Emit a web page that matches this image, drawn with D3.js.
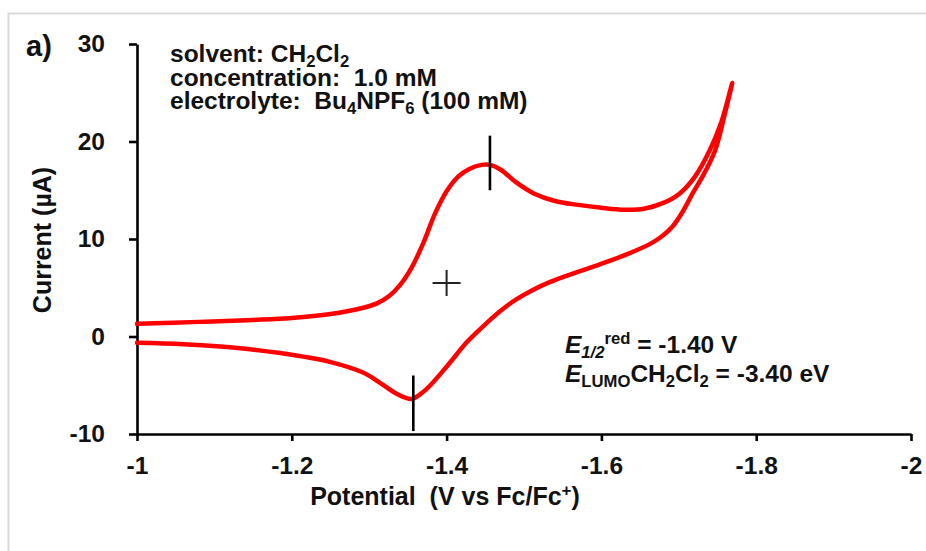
<!DOCTYPE html>
<html>
<head>
<meta charset="utf-8">
<script src="https://cdn.jsdelivr.net/npm/d3@7"></script>
<style>
  body { margin: 0; background: #fff; }
  svg { display: block; font-family: "Liberation Sans", Arial, sans-serif; font-weight: bold; }
</style>
</head>
<body>
<svg width="926" height="551"></svg>
<script>

// forward scan (-1 V -> -1.77 V)
var fwdPotential = [-1.000, -1.080, -1.150, -1.200, -1.250, -1.290, -1.310, -1.325, -1.340, -1.355,
                    -1.370, -1.385, -1.400, -1.415, -1.430, -1.445, -1.456, -1.470, -1.490, -1.512,
                    -1.540, -1.570, -1.600, -1.630, -1.655, -1.680, -1.700, -1.720, -1.740, -1.755, -1.769];
var fwdCurrent   = [1.3, 1.5, 1.7, 1.9, 2.3, 2.9, 3.4, 4.1, 5.3, 7.1,
                    9.6, 12.6, 14.9, 16.4, 17.2, 17.6, 17.6, 17.1, 15.8, 14.7,
                    13.9, 13.5, 13.2, 13.0, 13.1, 13.7, 14.6, 16.3, 19.1, 22.0, 26.0];

// return scan (-1.77 V -> -1 V)
var revPotential = [-1.769, -1.760, -1.747, -1.732, -1.718, -1.705, -1.691, -1.677, -1.663, -1.635,
                    -1.598, -1.565, -1.534, -1.512, -1.490, -1.469, -1.452, -1.440, -1.426, -1.401,
                    -1.379, -1.368, -1.355, -1.336, -1.315, -1.292, -1.249, -1.185, -1.120, -1.060, -1.000];
var revCurrent   = [26.0, 23.0, 19.1, 16.6, 14.7, 12.8, 11.2, 10.2, 9.5, 8.5,
                    7.4, 6.5, 5.6, 4.8, 3.8, 2.6, 1.4, 0.5, -0.6, -3.0,
                    -5.0, -5.8, -6.4, -5.9, -4.8, -3.7, -2.6, -1.7, -1.1, -0.8, -0.65];

// peak markers: [potential, current from, current to]
var peakMarks = [[-1.456, 15.0, 20.6], [-1.357, -4.0, -9.7]];
var halfWave = [-1.40, 5.5];

var xTicks = [-1, -1.2, -1.4, -1.6, -1.8, -2];
var yTicks = [-10, 0, 10, 20, 30];

var svg = d3.select("svg");

// frame remnant of the source figure
svg.append("path")
    .attr("d", "M8.5,551V13.5H926")
    .attr("fill", "none")
    .attr("stroke", "#d9d9d9")
    .attr("stroke-width", 2);

var x = d3.scaleLinear().domain([-1, -2]).range([137, 911]);
var y = d3.scaleLinear().domain([-10, 30]).range([434, 44]);

var xAxis = svg.append("g")
    .attr("transform", "translate(0,434)")
    .call(d3.axisBottom(x).tickValues(xTicks).tickSize(7).tickSizeOuter(0).tickPadding(16)
      .tickFormat(function(d) { return String(+d.toFixed(1)).replace("\u2212", "-"); }));

var yAxis = svg.append("g")
    .attr("transform", "translate(137,0)")
    .call(d3.axisLeft(y).tickValues(yTicks).tickSize(8).tickSizeOuter(0).tickPadding(24)
      .tickFormat(function(d) { return String(d); }));

[xAxis, yAxis].forEach(function(g) {
  g.selectAll("path, line").attr("stroke", "#000").attr("stroke-width", 2.6);
  g.selectAll("text").attr("fill", "#111").attr("font-size", 24.5)
    .attr("font-family", null).attr("font-weight", "bold");
});

// CV curve
var pts = fwdPotential.map(function(p, i) { return [p, fwdCurrent[i]]; })
  .concat(revPotential.slice(1).map(function(p, i) { return [p, revCurrent[i + 1]]; }));

var line = d3.line()
    .x(function(d) { return x(d[0]); })
    .y(function(d) { return y(d[1]); })
    .curve(d3.curveCatmullRom.alpha(0.5));

svg.append("path")
    .datum(pts)
    .attr("d", line)
    .attr("fill", "none")
    .attr("stroke", "#ff0000")
    .attr("stroke-width", 4.5)
    .attr("stroke-linejoin", "round")
    .attr("stroke-linecap", "round");

// peak markers
svg.selectAll(".mark")
  .data(peakMarks)
  .enter().append("line")
    .attr("x1", function(d) { return x(d[0]); })
    .attr("x2", function(d) { return x(d[0]); })
    .attr("y1", function(d) { return y(d[1]); })
    .attr("y2", function(d) { return y(d[2]); })
    .attr("stroke", "#000")
    .attr("stroke-width", 2.6);

// E1/2 cross
var cx = x(halfWave[0]), cy = y(halfWave[1]);
svg.append("path")
    .attr("d", "M" + (cx - 14) + "," + cy + "H" + (cx + 14) + "M" + cx + "," + (cy - 13) + "V" + (cy + 13))
    .attr("stroke", "#222")
    .attr("stroke-width", 2);

// rich text helper: parts = [text, kind, italic]
function richText(g, xPos, yPos, size, parts) {
  var t = g.append("text").attr("x", xPos).attr("y", yPos)
      .attr("font-size", size).attr("fill", "#111");
  var shift = 0;
  parts.forEach(function(p) {
    var target = p[1] === "sub" ? 5 : p[1] === "sup" ? -9 : 0;
    var s = t.append("tspan")
        .attr("dy", target - shift)
        .attr("font-size", p[1] ? size * 0.68 : size)
        .text(p[0]);
    if (p[2]) s.attr("font-style", "italic");
    shift = target;
  });
  return t;
}

svg.append("text")
    .attr("x", 26).attr("y", 56)
    .attr("font-size", 29)
    .attr("fill", "#111")
    .text("a)");

richText(svg, 170, 62, 24.5, [["solvent: CH"], ["2", "sub"], ["Cl"], ["2", "sub"]]);
richText(svg, 170, 85.5, 24.5, [["concentration:\u00a0\u00a01.0 mM"]]);
richText(svg, 170, 109, 24.5, [["electrolyte:\u00a0\u00a0Bu"], ["4", "sub"], ["NPF"], ["6", "sub"], [" (100 mM)"]]);

richText(svg, 565, 353, 24.5, [["E", null, true], ["1/2", "sub", true], ["red", "sup"], [" = -1.40 V"]]);
richText(svg, 565, 382, 24.5, [["E", null, true], ["LUMO", "sub"], ["CH"], ["2", "sub"], ["Cl"], ["2", "sub"], [" = -3.40 eV"]]);

// axis titles
richText(svg, 445, 505, 25, [["Potential\u00a0\u00a0(V vs Fc/Fc"], ["+", "sup"], [")"]])
    .attr("text-anchor", "middle");

svg.append("text")
    .attr("transform", "translate(51,240) rotate(-90)")
    .attr("text-anchor", "middle")
    .attr("font-size", 25)
    .attr("fill", "#111")
    .text("Current (\u00b5A)");

</script>
</body>
</html>
